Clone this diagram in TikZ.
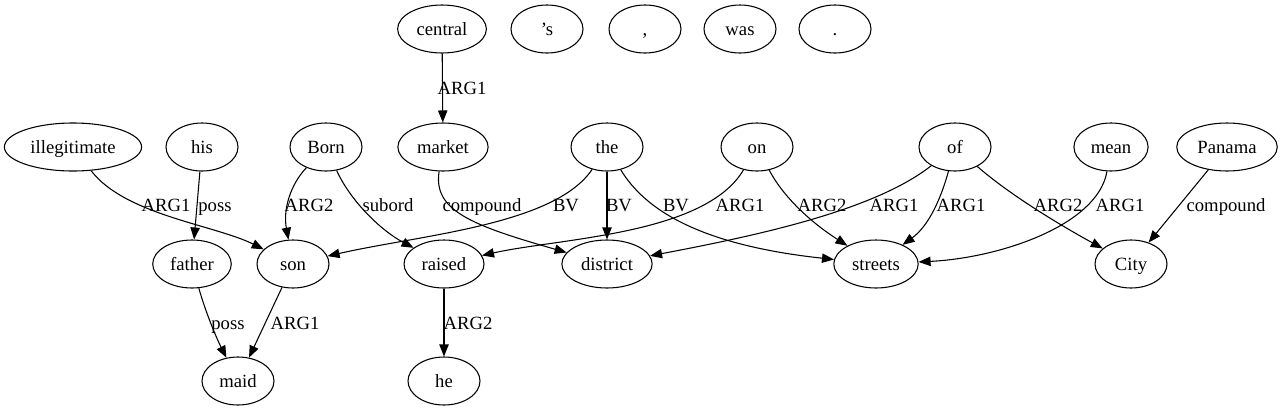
\documentclass[tikz,border=0pt]{standalone}
\usepackage{fontspec}
\setmainfont{Liberation Serif}
\usetikzlibrary{shapes,arrows.meta,positioning}

\tikzset{
    word/.style={draw, ellipse, line width=0.8pt, minimum width=54pt, minimum height=36pt,
                 inner xsep=4.5pt, inner ysep=2pt, text height=11pt, text depth=2pt,
                 font=\fontsize{14}{16}\selectfont},
    rel/.style={line width=0.8pt, -{Triangle[length=9pt,width=7pt]}},
    lab/.style={inner sep=0pt, text height=11pt, text depth=2pt, font=\fontsize{14}{16}\selectfont}
}

\begin{document}
\begin{tikzpicture}[x=0.75pt, y=-0.75pt]
    \useasboundingbox (0,0) rectangle (1285,411);

    % Top row
    \node[word] (central) at (442,29) {central};
    \node[word] (apos)    at (547,29) {’s};
    \node[word] (comma)   at (645,29) {,};
    \node[word] (was)     at (740,29) {was};
    \node[word] (stop)    at (835,29) {.};

    % Second row
    \node[word] (illegitimate) at (73,147)   {illegitimate};
    \node[word] (his)          at (202,147)  {his};
    \node[word] (born)         at (326,147)  {Born};
    \node[word] (market)       at (443,147)  {market};
    \node[word] (the)          at (607,147)  {the};
    \node[word] (on)           at (757,147)  {on};
    \node[word] (of)           at (955,147)  {of};
    \node[word] (mean)         at (1111,147) {mean};
    \node[word] (panama)       at (1227,147) {Panama};

    % Third row
    \node[word] (father)   at (192,264)  {father};
    \node[word] (son)      at (293,264)  {son};
    \node[word] (raised)   at (444,264)  {raised};
    \node[word] (district) at (607,264)  {district};
    \node[word] (streets)  at (876,264)  {streets};
    \node[word] (city)     at (1131,264) {City};

    % Bottom row
    \node[word] (maid) at (238,381) {maid};
    \node[word] (he)   at (444,381) {he};

    % Relations
    \draw[rel] (central) -- (market);
    \draw[rel] (illegitimate) .. controls (125,215) and (215,225) .. (son);
    \draw[rel] (his) -- (father);
    \draw[rel] (born) .. controls (290,185) and (283,210) .. (son);
    \draw[rel] (born) .. controls (350,200) and (380,230) .. (raised);
    \draw[rel] (market) .. controls (433,210) and (470,225) .. (district);
    \draw[rel] (the) .. controls (555,225) and (420,235) .. (son);
    \draw[rel] (the) -- (district);
    \draw[rel] (the) .. controls (645,210) and (700,245) .. (streets);
    \draw[rel] (on) .. controls (705,235) and (560,238) .. (raised);
    \draw[rel] (on) .. controls (785,200) and (815,225) .. (streets);
    \draw[rel] (of) .. controls (875,210) and (760,235) .. (district);
    \draw[rel] (of) .. controls (942,195) and (930,225) .. (streets);
    \draw[rel] (of) .. controls (1010,195) and (1060,225) .. (city);
    \draw[rel] (mean) .. controls (1098,225) and (1000,258) .. (streets);
    \draw[rel] (panama) -- (city);
    \draw[rel] (father) .. controls (205,310) and (215,335) .. (maid);
    \draw[rel] (son) -- (maid);
    \draw[rel] (raised) -- (he);

    % Edge labels
    \node[lab] (l1)  at (462,88)   {ARG1};
    \node[lab] (l2)  at (166,205)  {ARG1};
    \node[lab] (l3)  at (215,205)  {poss};
    \node[lab] (l4)  at (309,205)  {ARG2};
    \node[lab] (l5)  at (388,205)  {subord};
    \node[lab] (l6)  at (482,205)  {compound};
    \node[lab] (l7)  at (566,205)  {BV};
    \node[lab] (l8)  at (619,205)  {BV};
    \node[lab] (l9)  at (676,205)  {BV};
    \node[lab] (l10) at (740,205)  {ARG1};
    \node[lab] (l11) at (822,205)  {ARG2};
    \node[lab] (l12) at (894,205)  {ARG1};
    \node[lab] (l13) at (961,205)  {ARG1};
    \node[lab] (l14) at (1058,205) {ARG2};
    \node[lab] (l15) at (1120,205) {ARG1};
    \node[lab] (l16) at (1226,205) {compound};
    \node[lab] (l17) at (228,323)  {poss};
    \node[lab] (l18) at (295,323)  {ARG1};
    \node[lab] (l19) at (468,323)  {ARG2};
\end{tikzpicture}
\end{document}
